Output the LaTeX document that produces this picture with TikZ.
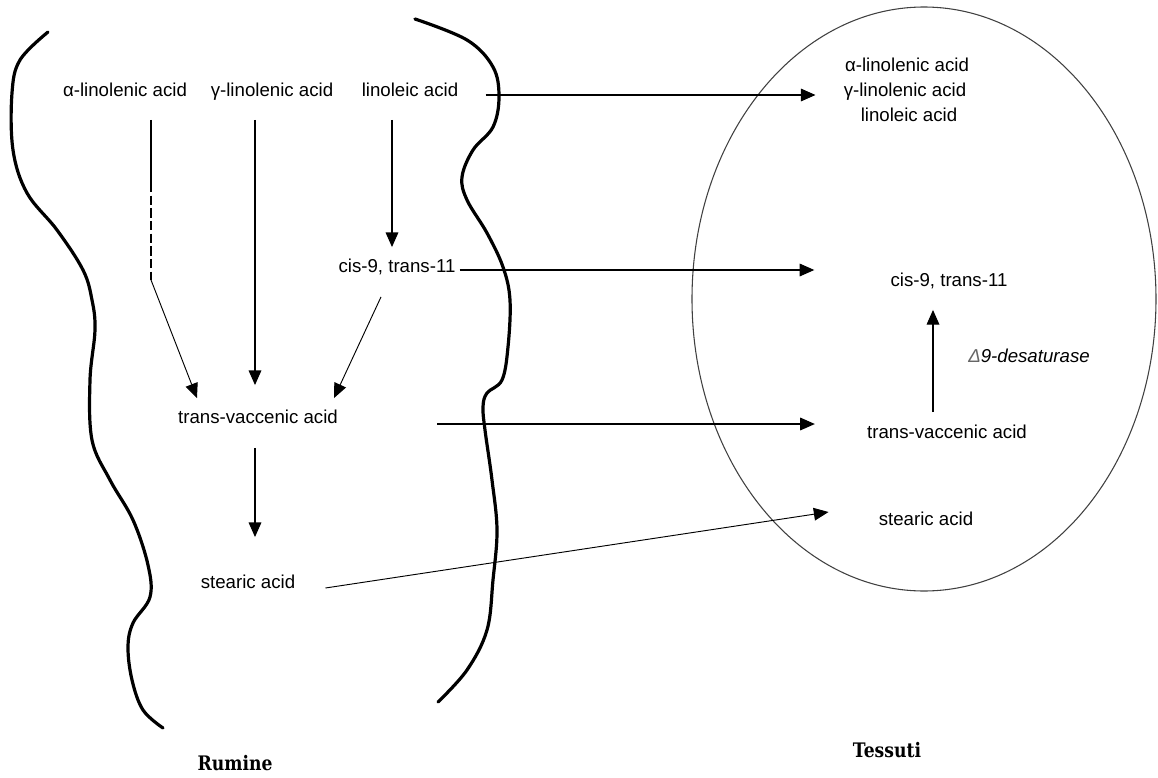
\documentclass[tikz,border=0pt]{standalone}
\usepackage{fontspec}
\usepackage{graphicx}
\setmainfont{Liberation Sans}
\newfontfamily\labfont{DejaVu Serif}
\usetikzlibrary{arrows.meta,calc}
\begin{document}
\begin{tikzpicture}[x=0.75pt,y=-0.75pt,
  txt/.style={inner sep=0pt, text height=10pt, text depth=3pt, font=\fontsize{14pt}{17pt}\selectfont},
  arr/.style={line width=0.9pt, -{Triangle[length=11pt,width=9.5pt]}},
  thinarr/.style={line width=0.7pt, -{Triangle[length=11pt,width=9.5pt]}},
  wavy/.style={line width=2.4pt, line cap=round},
  lab/.style={inner sep=0pt, font=\labfont\bfseries\fontsize{15pt}{18pt}\selectfont}]
\useasboundingbox (0,0) rectangle (1158,778);

% membranes
\draw[wavy] plot[smooth, tension=0.6] coordinates {(48,32) (20,60) (12,93) (13,150) (27,193) (57,230) (83,270) (92,300) (95,330) (90,380) (92,440) (110,480) (133,520) (148,565) (150,597) (133,623) (128,647) (132,680) (143,710) (163,728)};
\draw[wavy] plot[smooth, tension=0.6] coordinates {(415,19) (467,40) (493,67) (499,97) (493,127) (473,150) (462,177) (467,200) (487,233) (503,267) (510,300) (508,347) (502,380) (487,393) (483,407) (485,430) (492,480) (497,530) (493,580) (487,630) (467,670) (438,702)};

% tissue
\draw[line width=0.8pt, black!75] (924,299) ellipse [x radius=232, y radius=292];

% left texts
\node[txt] (Lalp) at (125,92) {α-linolenic acid};
\node[txt] (Lgam) at (272,92) {γ-linolenic acid};
\node[txt] (Llin) at (410,92) {linoleic acid};
\node[txt] (Lcis) at (397,268) {cis-9, trans-11};
\node[txt] (Ltv)  at (258,419) {trans-vaccenic acid};
\node[txt] (Lst)  at (248,584) {stearic acid};

% right texts
\node[txt] (Ra) at (907,67) {α-linolenic acid};
\node[txt] (Rg) at (905,92) {γ-linolenic acid};
\node[txt] (Rl) at (909,117) {linoleic acid};
\node[txt] (Rcis) at (949,282) {cis-9, trans-11};
\node[txt] (Rtv)  at (947,434) {trans-vaccenic acid};
\node[txt] (Rst)  at (926,521) {stearic acid};
\node[txt, anchor=west] (Rdes) at (968,358) {\itshape{\color{black!60}Δ}9-desaturase};

% labels
\node[lab] (rum) at (235,763) {\scalebox{0.86}[1]{Rumine}};
\node[lab] (tes) at (887,750) {\scalebox{0.86}[1]{Tessuti}};

% rumen pathway
\draw[line width=0.9pt] ($(Lalp.south)+(26,19)$) -- ($(Lalp.south)+(26,82)$);
\draw[line width=0.9pt, dash pattern=on 7pt off 2.5pt] ($(Lalp.south)+(26,82)$) -- ($(Lalp.south)+(26,179)$);
\draw[thinarr] ($(Lalp.south)+(26,179)$) -- ($(Ltv.north)+(-61,-12)$);
\draw[arr] ($(Lgam.south)+(-17,19)$) -- ($(Ltv.north)+(-3,-25)$);
\draw[arr] ($(Llin.south)+(-18,19)$) -- ($(Lcis.north)+(-5,-12)$);
\draw[thinarr] ($(Lcis.south)+(-16,20)$) -- ($(Ltv.north)+(76,-12)$);
\draw[arr] ($(Ltv.south)+(-3,20)$) -- ($(Lst.north)+(7,-38)$);

% transfer to tissue
\draw[arr] ($(Llin.east)+(27,3)$) -- ($(Rg.west)+(-28,3)$);
\draw[arr] ($(Lcis.east)+(4,2)$) -- ($(Rcis.west)+(-76,-12)$);
\draw[arr] ($(Ltv.east)+(99,5)$) -- ($(Rtv.west)+(-52,-10)$);
\draw[thinarr] ($(Lst.east)+(30,4)$) -- ($(Rst.west)+(-50,-9)$);

% desaturation
\draw[arr] ($(Rtv.north)+(-14,-13)$) -- ($(Rcis.south)+(-16,19)$);
\end{tikzpicture}
\end{document}
